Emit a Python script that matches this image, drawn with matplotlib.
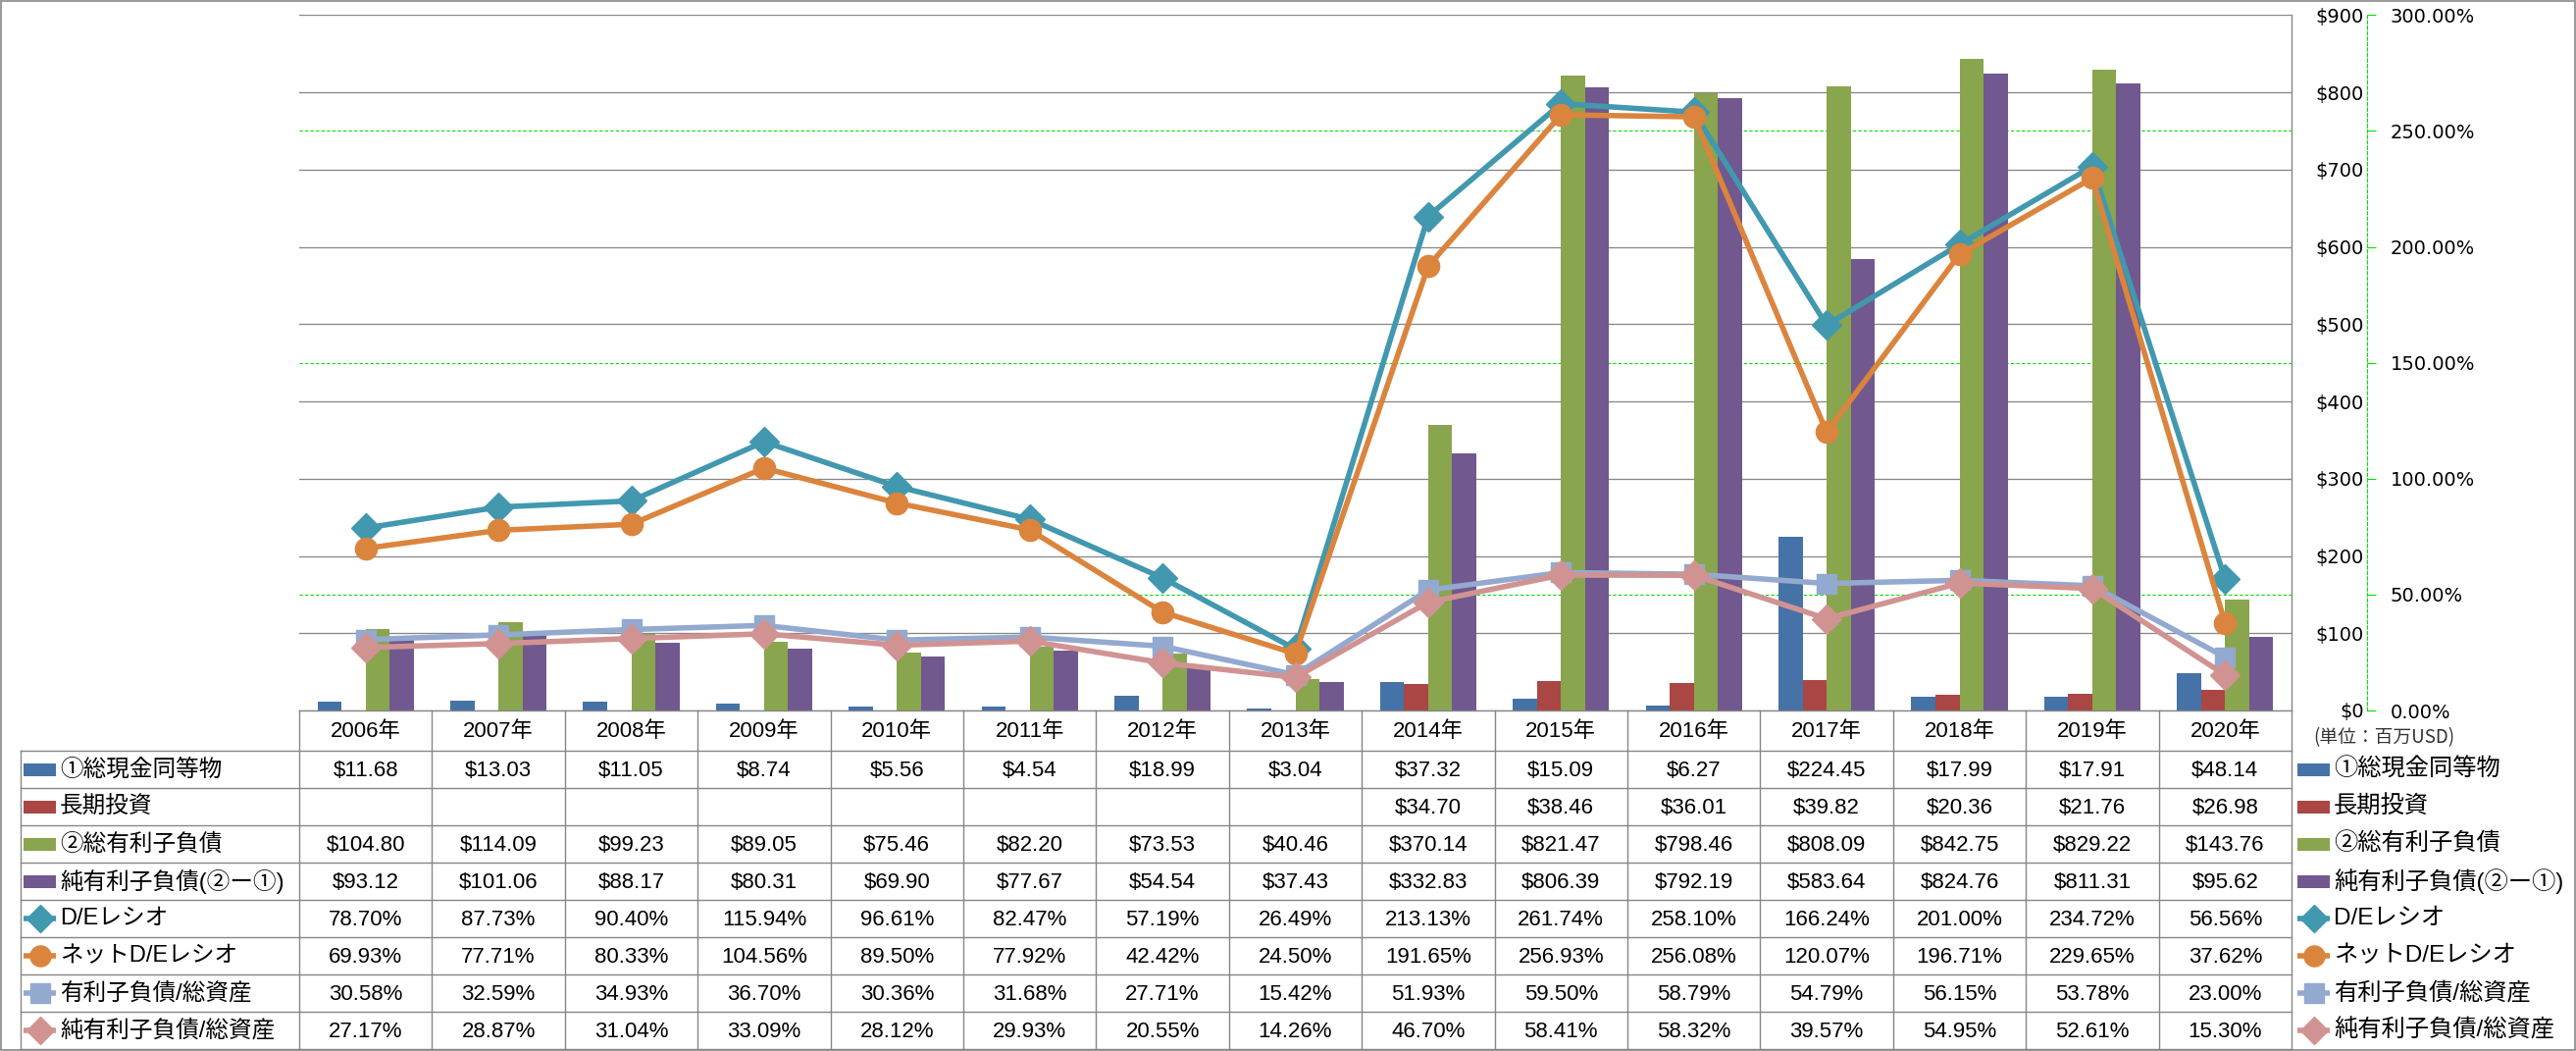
import matplotlib
matplotlib.use("Agg")
import matplotlib.pyplot as plt
import matplotlib.transforms as mtransforms
from matplotlib.patches import Rectangle
from matplotlib.ticker import FixedLocator, FuncFormatter
import numpy as np

nan = np.nan

years = list(range(2006, 2021))
cash = [11.68, 13.03, 11.05, 8.74, 5.56, 4.54, 18.99, 3.04, 37.32, 15.09, 6.27, 224.45, 17.99, 17.91, 48.14]
lt_invest = [nan, nan, nan, nan, nan, nan, nan, nan, 34.70, 38.46, 36.01, 39.82, 20.36, 21.76, 26.98]
total_debt = [104.80, 114.09, 99.23, 89.05, 75.46, 82.20, 73.53, 40.46, 370.14, 821.47, 798.46, 808.09, 842.75, 829.22, 143.76]
net_debt = [93.12, 101.06, 88.17, 80.31, 69.90, 77.67, 54.54, 37.43, 332.83, 806.39, 792.19, 583.64, 824.76, 811.31, 95.62]
de_ratio = [78.70, 87.73, 90.40, 115.94, 96.61, 82.47, 57.19, 26.49, 213.13, 261.74, 258.10, 166.24, 201.00, 234.72, 56.56]
net_de_ratio = [69.93, 77.71, 80.33, 104.56, 89.50, 77.92, 42.42, 24.50, 191.65, 256.93, 256.08, 120.07, 196.71, 229.65, 37.62]
debt_to_assets = [30.58, 32.59, 34.93, 36.70, 30.36, 31.68, 27.71, 15.42, 51.93, 59.50, 58.79, 54.79, 56.15, 53.78, 23.00]
net_debt_to_assets = [27.17, 28.87, 31.04, 33.09, 28.12, 29.93, 20.55, 14.26, 46.70, 58.41, 58.32, 39.57, 54.95, 52.61, 15.30]

series_labels = ["①総現金同等物", "長期投資", "②総有利子負債", "純有利子負債(②ー①)",
                 "D/Eレシオ", "ネットD/Eレシオ", "有利子負債/総資産", "純有利子負債/総資産"]
usd_ticks = list(range(0, 901, 100))
pct_ticks = list(range(0, 301, 50))

# style per series: (kind, colour, marker, markersize)
styles = [
    ("bar", "#4572A7", None, 0),
    ("bar", "#AA4643", None, 0),
    ("bar", "#89A54E", None, 0),
    ("bar", "#71588F", None, 0),
    ("line", "#4198AF", "D", 15),
    ("line", "#DB843D", "o", 16),
    ("line", "#93A9CF", "s", 14.5),
    ("line", "#D19392", "D", 15),
]
values = [cash, lt_invest, total_debt, net_debt,
          de_ratio, net_de_ratio, debt_to_assets, net_debt_to_assets]

plt.rcParams["font.family"] = ["Liberation Sans", "Noto Sans CJK JP", "DejaVu Sans"]

W, H = 2626, 1071
PLOT_L, PLOT_R = 305, 2336
PLOT_T, PLOT_B = 15.3, 724
ROW_TOP, ROW_H = 765.3, 38
TABLE_L = 20.5
GRID = "#868686"
GREEN = "#00E000"
PX = 72 / 100  # points per pixel
LW = 4.0

fig = plt.figure(figsize=(W / 100, H / 100), dpi=100)
ax = fig.add_axes([PLOT_L / W, 1 - PLOT_B / H, (PLOT_R - PLOT_L) / W, (PLOT_B - PLOT_T) / H])
ax2 = ax.twinx()

x = np.arange(len(years))
bw = 0.181
for k in range(4):
    ax.bar(x + (k - 1.5) * bw, values[k], bw, color=styles[k][1], lw=0, zorder=2)

ax.set_xlim(-0.5, len(years) - 0.5)
ax.set_ylim(0, 900)
ax.set_axisbelow(True)
ax.yaxis.set_major_locator(FixedLocator(usd_ticks))
ax.yaxis.set_minor_locator(FixedLocator([150, 450, 750]))
ax.yaxis.set_major_formatter(FuncFormatter(lambda v, p: f"${v:.0f}"))
ax.grid(axis="y", which="major", color=GRID, lw=1 * PX * 1.3)
ax.grid(axis="y", which="minor", color=GREEN, lw=0.8, ls=(0, (3, 2)))
ax.yaxis.tick_right()
ax.tick_params(axis="y", which="both", length=0)
ax.tick_params(axis="y", which="major", pad=(2410 - PLOT_R) * PX, labelsize=14,
               labelfontfamily="DejaVu Sans")
plt.setp(ax.get_yticklabels(), ha="right")
ax.tick_params(axis="x", length=0, labelbottom=False)
for s in ("left", "top"):
    ax.spines[s].set_visible(False)
for s in ("bottom", "right"):
    ax.spines[s].set_color(GRID)
    ax.spines[s].set_linewidth(1.0)

for k in range(4, 8):
    kind, c, m, ms = styles[k]
    ax2.plot(x, values[k], color=c, lw=LW, marker=m, ms=ms, mfc=c, mec=c,
             solid_joinstyle="round", zorder=3 + k)
ax2.set_ylim(0, 300)
ax2.yaxis.set_major_locator(FixedLocator(pct_ticks))
ax2.yaxis.set_major_formatter(FuncFormatter(lambda v, p: f"{v:.2f}%"))
for s in ("left", "top", "bottom"):
    ax2.spines[s].set_visible(False)
ax2.spines["right"].set_position(("outward", (2413 - PLOT_R) * PX))
ax2.spines["right"].set_color(GREEN)
ax2.spines["right"].set_linestyle((0, (3, 2)))
ax2.spines["right"].set_linewidth(0.8)
ax2.tick_params(axis="y", direction="out", length=9 * PX, width=0.8, color=GREEN,
                pad=15 * PX, labelsize=14, labelfontfamily="DejaVu Sans")

# data table and legend, drawn in pixel coordinates
tab = fig.add_axes([0, 0, 1, 1])
tab.set_xlim(0, W)
tab.set_ylim(H, 0)
tab.axis("off")
cell = mtransforms.blended_transform_factory(ax.transData, tab.transData)

n_rows = len(series_labels)
row_edges = [ROW_TOP + i * ROW_H for i in range(n_rows + 1)]
for yy in row_edges:
    tab.plot([TABLE_L, PLOT_R], [yy, yy], color=GRID, lw=1.0, clip_on=False)
tab.plot([TABLE_L, TABLE_L], [ROW_TOP, row_edges[-1]], color=GRID, lw=1.0)
for i in range(len(years) + 1):
    tab.plot([i - 0.5, i - 0.5], [PLOT_B, row_edges[-1]], color=GRID, lw=1.0,
             transform=cell, clip_on=False)

for i, y in enumerate(years):
    tab.text(i, (PLOT_B + ROW_TOP) / 2 + 1, f"{y}年", transform=cell,
             ha="center", va="center", fontsize=16)


def draw_key(x0, x1, yc, style):
    kind, c, m, ms = style
    if kind == "bar":
        tab.add_patch(Rectangle((x0, yc - 6.5), x1 - x0, 13, color=c, lw=0))
    else:
        tab.plot([x0, x1], [yc, yc], color=c, lw=LW, solid_capstyle="butt")
        tab.plot([(x0 + x1) / 2], [yc], marker=m, ms=ms * 0.95, color=c, mec=c)


for r in range(n_rows):
    yc = ROW_TOP + (r + 0.5) * ROW_H
    draw_key(24, 57, yc, styles[r])
    tab.text(61, yc, series_labels[r], ha="left", va="center", fontsize=17)
    draw_key(2342, 2375, yc, styles[r])
    tab.text(2379, yc, series_labels[r], ha="left", va="center", fontsize=17.5)
    for i, v in enumerate(values[r]):
        if np.isnan(v):
            continue
        txt = f"${v:.2f}" if r < 4 else f"{v:.2f}%"
        tab.text(i, yc + 1, txt, transform=cell, ha="center", va="center", fontsize=16)

tab.text(2358, 752, "(単位：百万USD)", ha="left", va="center", fontsize=13.5,
         family=["Noto Sans CJK JP"], color="#333333")

tab.add_patch(Rectangle((0.5, 0.5), W - 1.5, H - 1.5, fill=False, ec=GRID, lw=1.2))

fig.savefig("out.png", dpi=100)
